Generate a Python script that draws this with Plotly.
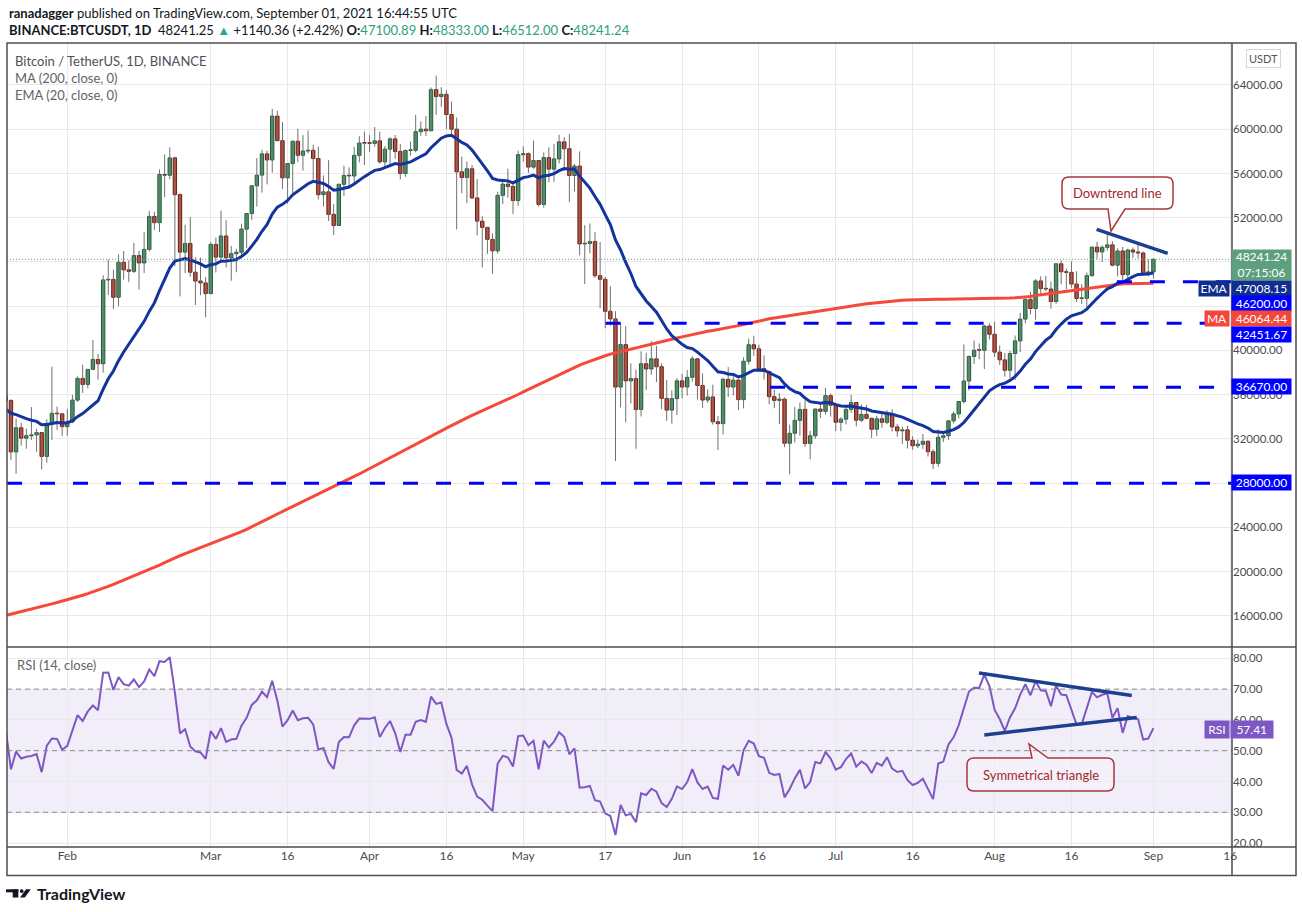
import numpy as np
import pandas as pd
import plotly.graph_objects as go

# BTCUSDT daily candles, 2021-01-20 .. 2021-09-01
jan_o = [35891, 35468, 30825, 33005, 32068, 32289, 32366, 32570, 30419, 33403, 34316, 34269]
jan_h = [36415, 35600, 33826, 33456, 32944, 34875, 32921, 32580, 33784, 38531, 34934, 34288]
jan_l = [33400, 30071, 28850, 31390, 31106, 31910, 30837, 29241, 29842, 31915, 32825, 32270]
jan_c = [35468, 30825, 33005, 32068, 32289, 32366, 32570, 30419, 33403, 34316, 34269, 33114]

feb_o = [33114, 33537, 35510, 37472, 36926, 38290, 39186, 38795, 46374, 46420, 44807, 47969, 47287, 47153,
         48577, 47911, 49133, 52119, 51552, 55906, 55841, 57413, 54087, 48892, 49677, 47073, 46277, 46104]
feb_h = [34717, 35984, 37662, 38708, 38310, 40955, 39700, 46794, 48200, 47310, 48678, 48985, 48150, 49707,
         49010, 50690, 52618, 52530, 56368, 57700, 58352, 57508, 54183, 51374, 52041, 48425, 48394, 46638]
feb_l = [32297, 33418, 35362, 36161, 36571, 38215, 37351, 37988, 45020, 43727, 43994, 46400, 46202, 47015,
         45500, 47003, 48947, 50901, 50710, 53863, 55477, 47622, 44892, 47003, 46674, 44106, 45000, 43000]
feb_c = [33537, 35510, 37472, 36926, 38290, 39186, 38795, 46374, 46420, 44807, 47969, 47287, 47153, 48577,
         47911, 49133, 52119, 51552, 55906, 55841, 57408, 54087, 48891, 49676, 47073, 46276, 46106, 45135]

mar_o = [45135, 49587, 48440, 50349, 48374, 48751, 48882, 50971, 52375, 54884, 55851, 57773, 57221, 61188, 58968,
         55605, 56900, 58912, 57648, 58030, 58102, 57351, 54083, 54340, 52303, 51293, 55025, 55817, 55777, 57635, 58746]
mar_h = [49790, 50201, 52640, 51773, 49448, 49200, 51450, 52402, 54900, 57387, 58150, 58058, 61845, 61683, 60633,
         56938, 58982, 60040, 59468, 59880, 58589, 58430, 55830, 57200, 53230, 55073, 56700, 56559, 58400, 59368, 59800]
mar_l = [45115, 47047, 48100, 47500, 46300, 47070, 48500, 49274, 51789, 53005, 54272, 55013, 56078, 58963, 54600,
         53271, 54123, 57023, 56270, 57820, 55450, 53650, 53000, 51700, 50427, 51283, 53962, 54691, 54900, 57000, 56769]
mar_c = [49587, 48440, 50349, 48374, 48751, 48882, 50971, 52375, 54884, 55851, 57773, 57221, 61188, 58968, 55605,
         56900, 58912, 57648, 58030, 58102, 57351, 54083, 54340, 52303, 51293, 55025, 55817, 55777, 57635, 58746, 58740]

apr_o = [58740, 58720, 58950, 57051, 58202, 59129, 57991, 56000, 58080, 58093, 59778, 60007, 59860, 63575, 62959,
         63159, 61334, 60006, 56150, 55633, 56425, 53787, 51690, 51125, 50047, 49004, 54021, 55033, 54824, 53555]
apr_h = [59490, 60200, 59791, 58492, 59272, 59474, 58655, 58154, 58894, 61300, 60700, 61199, 63777, 64854, 63800,
         63520, 62506, 61057, 57526, 57076, 56757, 55500, 52130, 51166, 50567, 54356, 55475, 56428, 55196, 58075]
apr_l = [57935, 58430, 56880, 56443, 56800, 57333, 55473, 55700, 57630, 57920, 59400, 59370, 59860, 61301, 62020,
         60000, 59580, 50931, 54221, 53329, 53695, 50400, 47500, 48734, 46930, 48753, 53223, 53813, 52330, 53069]
apr_c = [58720, 58950, 57051, 58202, 59129, 57991, 56000, 58080, 58093, 59778, 60007, 59860, 63575, 62959, 63159,
         61334, 60006, 56150, 55633, 56425, 53787, 51690, 51125, 50047, 49004, 54021, 55033, 54824, 53555, 57697]

may_o = [57697, 57797, 56578, 57169, 53200, 57436, 56393, 57314, 58862, 58240, 55816, 56670, 49631, 49670, 49841,
         46762, 46431, 43538, 42849, 36690, 40526, 37252, 37449, 34655, 38796, 38324, 39241, 38529, 35663, 34605, 35641]
may_h = [58458, 57912, 58981, 57200, 57911, 58360, 58650, 59500, 59300, 59592, 56862, 58000, 51330, 51483, 50700,
         49800, 46643, 45800, 43546, 42451, 42200, 38829, 38270, 39920, 39791, 40841, 40411, 38856, 37338, 36400, 37499]
may_l = [57053, 56035, 56435, 53000, 52900, 55200, 55241, 56900, 56235, 53400, 54370, 48600, 46000, 48800, 46555,
         43825, 42001, 42250, 30000, 34850, 33488, 35200, 31111, 34031, 36419, 37800, 37134, 34684, 33633, 33379, 34154]
may_c = [57797, 56578, 57169, 53200, 57436, 56393, 57314, 58862, 58240, 55816, 56670, 49631, 49670, 49841, 46762,
         46431, 43538, 42849, 36690, 40526, 37252, 37449, 34655, 38796, 38324, 39241, 38529, 35663, 34605, 35641, 37253]

jun_o = [37253, 36693, 37568, 39246, 36829, 35513, 35796, 33552, 33380, 37389, 36693, 37313, 35551, 39020, 40516,
         40144, 38349, 38092, 35820, 35483, 35600, 31608, 32509, 33678, 34663, 31584, 32283, 34700, 34494, 35911]
jun_h = [37894, 38225, 39476, 39290, 37920, 36480, 36900, 34068, 37534, 38491, 37680, 37448, 39380, 41064, 41330,
         40527, 39560, 38200, 36457, 36137, 35750, 33298, 34881, 35298, 35500, 32730, 34749, 35297, 36600, 36100]
jun_l = [35667, 35920, 37170, 35568, 34800, 35258, 33300, 31000, 32397, 35783, 35937, 34600, 34758, 38730, 39506,
         38116, 37365, 35129, 34803, 33336, 31251, 28805, 31683, 32287, 31275, 30151, 32000, 33862, 34225, 34017]
jun_c = [36693, 37568, 39246, 36829, 35513, 35796, 33552, 33380, 37389, 36693, 37313, 35551, 39020, 40516, 40144,
         38349, 38092, 35820, 35483, 35600, 31608, 32509, 33678, 34663, 31584, 32283, 34700, 34494, 35911, 35045]

jul_o = [35045, 33504, 33786, 34669, 35287, 33690, 34220, 33862, 32875, 33815, 33502, 34259, 33086, 32729, 32820,
         31880, 31383, 31521, 31778, 30839, 29790, 32144, 32287, 33634, 34258, 35381, 37237, 39457, 40019, 40016, 42206]
jul_h = [35057, 33977, 34945, 35967, 35293, 35118, 35059, 33929, 34100, 34262, 34592, 34679, 33340, 33114, 33185,
         32249, 31936, 32435, 31899, 31063, 32858, 32591, 33650, 34500, 35398, 40550, 39542, 40900, 40640, 42316, 42448]
jul_l = [32711, 32699, 33316, 34357, 33125, 33533, 33777, 32077, 32261, 33005, 33330, 32658, 32203, 31550, 31133,
         31021, 31164, 31108, 30407, 29278, 29482, 31708, 31924, 33402, 33851, 35206, 36383, 38772, 39200, 38316, 41000]
jul_c = [33504, 33786, 34669, 35287, 33690, 34220, 33862, 32875, 33815, 33502, 34259, 33086, 32729, 32820, 31880,
         31383, 31521, 31778, 30839, 29790, 32144, 32287, 33634, 34258, 35381, 37237, 39457, 40019, 40016, 42206, 41461]

aug_o = [41461, 39846, 39147, 38207, 39723, 40862, 42836, 44614, 43792, 46285, 45595, 45554, 44422, 47834, 47112,
         47057, 46004, 44696, 44715, 46763, 49339, 48905, 49321, 49546, 47707, 48993, 46852, 49078, 48898, 48807, 46991]
aug_h = [42599, 40459, 39780, 39969, 41350, 43392, 44700, 45310, 46454, 46700, 46743, 46218, 47886, 48145, 47390,
         48054, 47161, 46000, 47050, 49400, 49822, 49500, 50500, 49875, 49240, 49370, 49202, 49309, 49667, 48951, 48246]
aug_l = [39422, 38690, 37642, 37508, 37332, 39853, 42446, 43261, 42779, 44936, 45342, 43771, 44218, 45971, 45523,
         45660, 44376, 44203, 43955, 46644, 48285, 48003, 49025, 47600, 46700, 46322, 46370, 48370, 48321, 46863, 46700]
aug_c = [39846, 39147, 38207, 39723, 40862, 42836, 44614, 43792, 46285, 45595, 45554, 44422, 47834, 47112, 47057,
         46004, 44696, 44715, 46763, 49339, 48905, 49321, 49546, 47707, 48993, 46852, 49078, 48898, 48807, 46991, 47101]

sep_o = [47100.89]
sep_h = [48333.00]
sep_l = [46512.00]
sep_c = [48241.24]

# closes before the window (2020-07-05 .. 2021-01-19), only used to warm up MA200 / EMA20 / RSI
hist_close = [
    9073, 9375, 9252, 9428, 9277, 9278, 9234, 9302, 9242, 9255, 9197, 9133, 9154, 9170, 9208, 9160, 9390, 9518,
    9603, 9537, 9700, 9931, 11029, 10906, 11101, 11113, 11351,
    11801, 11072, 11220, 11191, 11744, 11763, 11595, 11754, 11676, 11879, 11410, 11585, 11781, 11768, 11866, 11893,
    12254, 11991, 11741, 11859, 11592, 11682, 11649, 11751, 11319, 11462, 11329, 11528, 11470, 11712, 11655,
    11924, 11396, 10171, 10469, 10168, 10255, 10373, 10127, 10224, 10346, 10392, 10443, 10329, 10680, 10787, 10954,
    10939, 10933, 11081, 10921, 10417, 10529, 10241, 10737, 10687, 10728, 10775, 10709, 10845, 10777,
    10619, 10571, 10550, 10674, 10792, 10600, 10669, 10902, 11056, 11297, 11375, 11544, 11428, 11429, 11504, 11320,
    11362, 11496, 11752, 11910, 12803, 12966, 12931, 13108, 13031, 13068, 13655, 13272, 13455, 13560, 13792,
    13762, 13550, 14023, 14146, 15590, 15580, 14834, 15479, 15333, 15289, 15701, 16276, 16317, 16070, 15957, 16714,
    17645, 17804, 17818, 18649, 18681, 18373, 18412, 19154, 18722, 17150, 17139, 17720, 18185, 19696,
    18765, 19204, 19421, 18650, 19148, 19359, 19166, 18324, 18541, 18254, 18036, 18808, 19175, 19273, 19426, 21335,
    22797, 23108, 23822, 23455, 22719, 23811, 23232, 23729, 24712, 26493, 26281, 27079, 27385, 28875, 28923,
    29331, 32178, 33000, 31988, 33949, 36769, 39432, 40582, 40088, 38150, 35404, 34051, 37371, 39144, 36742, 35994,
    35828, 36632, 35891]

# horizontal levels and drawn lines
levels = [28000, 36670, 42451.67, 46200]
level_start = [None, "2021-06-18 04:00", "2021-05-17 02:00", "2021-08-24 21:00"]
last_price = 48241.24
downtrend = [("2021-08-20 22:00", 50953), ("2021-09-03 19:00", 48783)]
rsi_upper = [("2021-07-28 23:00", 75.2), ("2021-08-27 18:30", 67.9)]
rsi_lower = [("2021-07-30 00:00", 55.1), ("2021-08-28 18:00", 60.8)]

tick_dates = ["2021-02-01", "2021-03-01", "2021-03-16", "2021-04-01", "2021-04-16", "2021-05-01", "2021-05-17",
              "2021-06-01", "2021-06-16", "2021-07-01", "2021-07-16", "2021-08-01", "2021-08-16", "2021-09-01",
              "2021-09-16"]
tick_text = ["Feb", "Mar", "16", "Apr", "16", "May", "17", "Jun", "16", "Jul", "16", "Aug", "16", "Sep", "16"]
price_ticks = [16000, 20000, 24000, 28000, 32000, 36000, 40000, 44000, 48000, 52000, 56000, 60000, 64000]
# labels hidden behind the price-scale badges are left blank
price_tick_text = ["16000.00", "20000.00", "24000.00", "", "32000.00", "36000.00", "40000.00", "", "",
                   "52000.00", "56000.00", "60000.00", "64000.00"]
rsi_ticks = [20, 30, 40, 50, 60, 70, 80]

opens = np.array(jan_o + feb_o + mar_o + apr_o + may_o + jun_o + jul_o + aug_o + sep_o, dtype=float)
highs = np.array(jan_h + feb_h + mar_h + apr_h + may_h + jun_h + jul_h + aug_h + sep_h, dtype=float)
lows = np.array(jan_l + feb_l + mar_l + apr_l + may_l + jun_l + jul_l + aug_l + sep_l, dtype=float)
closes = np.array(jan_c + feb_c + mar_c + apr_c + may_c + jun_c + jul_c + aug_c + sep_c, dtype=float)
dates = pd.date_range("2021-01-20", "2021-09-01", freq="D")
assert len(dates) == len(opens) == len(highs) == len(lows) == len(closes)

# indicators
allc = pd.Series(list(hist_close) + list(closes))
n = len(closes)
ma200 = allc.rolling(200).mean().values[-n:]
ema20 = allc.ewm(span=20, adjust=False).mean().values[-n:]
delta = allc.diff()
up_move = delta.clip(lower=0).ewm(alpha=1 / 14, adjust=False).mean()
down_move = (-delta.clip(upper=0)).ewm(alpha=1 / 14, adjust=False).mean()
rsi = (100 - 100 / (1 + up_move / down_move)).values[-n:]

# pixel -> paper helpers (plot area 7..1232 x 43..847)
def PX(x):
    return (x - 7) / 1225

def PY(y):
    return (847 - y) / 804

X_RANGE = ["2021-01-20 05:32", "2021-09-16 08:10"]
FONT = "Lato, 'Noto Sans', sans-serif"
GRID = "#e9e9ec"

fig = go.Figure()

# wicks
wx, wy = [], []
for d, h, l in zip(dates, highs, lows):
    wx += [d, d, None]
    wy += [l, h, None]
fig.add_trace(go.Scatter(x=wx, y=wy, mode="lines", line=dict(color="#707070", width=1),
                         hoverinfo="skip", xaxis="x", yaxis="y"))

# bodies
body_lo = np.minimum(opens, closes)
body_h = np.maximum(np.abs(closes - opens), 60)
is_up = closes >= opens
bw = 0.66 * 86400000
fig.add_trace(go.Bar(x=dates[is_up], y=body_h[is_up], base=body_lo[is_up], width=bw,
                     marker=dict(color="#44a06a", line=dict(color="#1f5a36", width=1)),
                     xaxis="x", yaxis="y", hoverinfo="skip"))
fig.add_trace(go.Bar(x=dates[~is_up], y=body_h[~is_up], base=body_lo[~is_up], width=bw,
                     marker=dict(color="#d4402b", line=dict(color="#6a1d12", width=1)),
                     xaxis="x", yaxis="y", hoverinfo="skip"))

fig.add_trace(go.Scatter(x=dates, y=ma200, mode="lines", line=dict(color="#f7493a", width=3),
                         xaxis="x", yaxis="y", hoverinfo="skip"))
fig.add_trace(go.Scatter(x=dates, y=ema20, mode="lines", line=dict(color="#13349c", width=3),
                         xaxis="x", yaxis="y", hoverinfo="skip"))

fig.add_trace(go.Scatter(x=dates, y=rsi, mode="lines", line=dict(color="#7e57c2", width=2),
                         xaxis="x2", yaxis="y2", hoverinfo="skip"))

shapes = []
# RSI band and levels
shapes.append(dict(type="rect", xref="x2 domain", yref="y2", x0=0, x1=1, y0=30, y1=70,
                   fillcolor="rgba(126,87,194,0.10)", line=dict(width=0), layer="below"))
for lv in [70, 50, 30]:
    shapes.append(dict(type="line", xref="x2 domain", yref="y2", x0=0, x1=1, y0=lv, y1=lv,
                       line=dict(color="#8a8a8e", width=1, dash="5px,4px")))

# last price dotted line
shapes.append(dict(type="line", xref="x domain", yref="y", x0=0, x1=1, y0=last_price, y1=last_price,
                   line=dict(color="#6f9d8c", width=1, dash="1px,2px")))

# dashed support / resistance levels
for lv, st in zip(levels, level_start):
    shapes.append(dict(type="line", xref="x", yref="y", x0=st if st else X_RANGE[0], x1=X_RANGE[1],
                       y0=lv, y1=lv, line=dict(color="#0000ff", width=3, dash="15px,18px")))

# trendlines
for seg, xr, yr in [(downtrend, "x", "y"), (rsi_upper, "x2", "y2"), (rsi_lower, "x2", "y2")]:
    shapes.append(dict(type="line", xref=xr, yref=yr, x0=seg[0][0], y0=seg[0][1], x1=seg[1][0], y1=seg[1][1],
                       line=dict(color="#1d3f90", width=3.5)))


def callout(x0, x1, y0, y1, bx0, bx1, tx, ty, tail_bottom=True, r=7):
    def p(x, y):
        return f"{PX(x):.5f},{PY(y):.5f}"
    if tail_bottom:
        d = (f"M{p(x0 + r, y0)} L{p(x1 - r, y0)} Q{p(x1, y0)} {p(x1, y0 + r)} L{p(x1, y1 - r)} "
             f"Q{p(x1, y1)} {p(x1 - r, y1)} L{p(bx1, y1)} L{p(tx, ty)} L{p(bx0, y1)} L{p(x0 + r, y1)} "
             f"Q{p(x0, y1)} {p(x0, y1 - r)} L{p(x0, y0 + r)} Q{p(x0, y0)} {p(x0 + r, y0)} Z")
    else:
        d = (f"M{p(x0 + r, y0)} L{p(bx0, y0)} L{p(tx, ty)} L{p(bx1, y0)} L{p(x1 - r, y0)} "
             f"Q{p(x1, y0)} {p(x1, y0 + r)} L{p(x1, y1 - r)} Q{p(x1, y1)} {p(x1 - r, y1)} L{p(x0 + r, y1)} "
             f"Q{p(x0, y1)} {p(x0, y1 - r)} L{p(x0, y0 + r)} Q{p(x0, y0)} {p(x0 + r, y0)} Z")
    return dict(type="path", xref="paper", yref="paper", path=d, fillcolor="rgba(255,255,255,0.2)",
                line=dict(color="#a8383b", width=1.5))


shapes.append(callout(1062, 1173, 177, 209, 1108, 1125, 1111, 231, True))
shapes.append(callout(967, 1114, 758, 791, 1032, 1048, 1029, 744, False))

# frame lines
BORDER = "#4d4d52"
shapes.append(dict(type="rect", xref="paper", yref="paper", x0=PX(7), x1=PX(1296), y0=PY(875.5), y1=PY(43),
                   line=dict(color=BORDER, width=1.5)))
for y in [647, 847]:
    shapes.append(dict(type="line", xref="paper", yref="paper", x0=PX(7), x1=PX(1296), y0=PY(y), y1=PY(y),
                       line=dict(color=BORDER, width=1.5)))
shapes.append(dict(type="line", xref="paper", yref="paper", x0=PX(1232), x1=PX(1232), y0=PY(875.5), y1=PY(43),
                   line=dict(color=BORDER, width=1.5)))

# TradingView logo
shapes.append(dict(type="rect", xref="paper", yref="paper", x0=PX(6), x1=PX(18.3), y0=PY(892.3), y1=PY(889.3),
                   fillcolor="#131722", line=dict(width=0)))
shapes.append(dict(type="rect", xref="paper", yref="paper", x0=PX(12.7), x1=PX(18.3), y0=PY(897.5), y1=PY(889.3),
                   fillcolor="#131722", line=dict(width=0)))
shapes.append(dict(type="circle", xref="paper", yref="paper", x0=PX(19.8), x1=PX(23.6), y0=PY(893), y1=PY(889.2),
                   fillcolor="#131722", line=dict(width=0)))
shapes.append(dict(type="path", xref="paper", yref="paper",
                   path=f"M{PX(26):.5f},{PY(889.3):.5f} L{PX(30.8):.5f},{PY(889.3):.5f} "
                        f"L{PX(24.8):.5f},{PY(897.5):.5f} L{PX(20):.5f},{PY(897.5):.5f} Z",
                   fillcolor="#131722", line=dict(width=0)))

annotations = []


def txt(text, x, y, size=13, color="#4a4a4a", xanchor="left", yanchor="middle", **kw):
    annotations.append(dict(text=text, xref="paper", yref="paper", x=PX(x), y=PY(y), xanchor=xanchor,
                            yanchor=yanchor, showarrow=False, font=dict(size=size, color=color, family=FONT), **kw))


def badge(text, x0, x1, y0, y1, bg, size=12):
    annotations.append(dict(text=text, xref="paper", yref="paper", x=PX((x0 + x1) / 2), y=PY((y0 + y1) / 2),
                            xanchor="center", yanchor="middle", showarrow=False, bgcolor=bg,
                            width=x1 - x0 - 2, height=y1 - y0 - 2, borderpad=1, align="center",
                            font=dict(size=size, color="white", family=FONT)))


GREEN_TXT = "#2f9f80"
txt("<b>ranadagger</b> published on TradingView.com, September 01, 2021 16:44:55 UTC", 7, 13, 13, "#131722")
txt("<b>BINANCE:BTCUSDT, 1D</b>  48241.25 <span style='color:#26a69a'>▲</span> +1140.36 (+2.42%) "
    f"<b>O:</b><span style='color:{GREEN_TXT}'>47100.89</span> <b>H:</b><span style='color:{GREEN_TXT}'>48333.00</span> "
    f"<b>L:</b><span style='color:{GREEN_TXT}'>46512.00</span> <b>C:</b><span style='color:{GREEN_TXT}'>48241.24</span>",
    7, 30, 13, "#131722")

txt("Bitcoin / TetherUS, 1D, BINANCE", 13, 61, 13, "#505056")
txt("MA (200, close, 0)", 13, 78, 13, "#636369")
txt("EMA (20, close, 0)", 13, 95, 13, "#636369")
txt("RSI (14, close)", 15, 665, 13, "#636369")

txt("Downtrend line", 1117.5, 193, 13, "#a3282c", xanchor="center")
txt("Symmetrical triangle", 1040.5, 774.5, 13, "#a3282c", xanchor="center")

txt("<b>TradingView</b>", 35, 893.5, 16, "#131722")

# USDT box
annotations.append(dict(text="USDT", xref="paper", yref="paper", x=PX(1263), y=PY(58.7), xanchor="center",
                        yanchor="middle", showarrow=False, bordercolor="#d6d6dc", borderwidth=1, borderpad=2,
                        bgcolor="white", font=dict(size=11, color="#555", family=FONT)))

# price scale badges
badge("48241.24<br>07:15:06", 1232, 1291, 250.5, 280, "#5e9f80")
badge("EMA", 1199, 1229, 280.7, 295.3, "#102e8c")
badge("47008.15", 1232, 1291, 280.7, 295.3, "#102e8c")
badge("46200.00", 1232, 1291, 296, 310.7, "#0000ff")
badge("MA", 1205, 1229, 310.9, 325.7, "#f4473b")
badge("46064.44", 1232, 1291, 310.9, 325.7, "#f4473b")
badge("42451.67", 1232, 1291, 326.7, 341.7, "#0000ff")
badge("36670.00", 1232, 1291, 379, 394.3, "#0000ff")
badge("28000.00", 1232, 1291, 475.5, 490.5, "#0000ff")
badge("RSI", 1205, 1229, 721, 737.7, "#7e57c2")
badge("57.41", 1231.5, 1273, 721, 737.7, "#7e57c2")

split = PY(647)
fig.update_layout(
    width=1302, height=912,
    margin=dict(l=7, r=70, t=43, b=65),
    paper_bgcolor="white", plot_bgcolor="white",
    showlegend=False, barmode="overlay", hovermode=False,
    font=dict(family=FONT, color="#4b4b50", size=12),
    xaxis=dict(type="date", range=X_RANGE, domain=[0, 1], anchor="y", showticklabels=False,
               tickvals=tick_dates, showgrid=True, gridcolor=GRID, zeroline=False, showline=False),
    xaxis2=dict(type="date", matches="x", domain=[0, 1], anchor="y2", tickvals=tick_dates, ticktext=tick_text,
                showgrid=True, gridcolor=GRID, zeroline=False, showline=False, ticks="",
                tickfont=dict(size=12, color="#4b4b50")),
    yaxis=dict(domain=[split, 1], range=[13186, 67797], side="right", anchor="x",
               tickvals=price_ticks, ticktext=price_tick_text, showgrid=True, gridcolor=GRID,
               zeroline=False, showline=False, ticks="", tickfont=dict(size=11.5, color="#4b4b50")),
    yaxis2=dict(domain=[0, split], range=[18.73, 83.67], side="right", anchor="x2",
                tickvals=rsi_ticks, tickformat=".2f", showgrid=True, gridcolor=GRID,
                zeroline=False, showline=False, ticks="", tickfont=dict(size=11.5, color="#4b4b50")),
    shapes=shapes,
    annotations=annotations,
)

# the page's default body margin would push the fixed-size figure off the window
fig.write_html("out.html", config={"displayModeBar": False},
               post_script="document.body.style.margin='0px';")
